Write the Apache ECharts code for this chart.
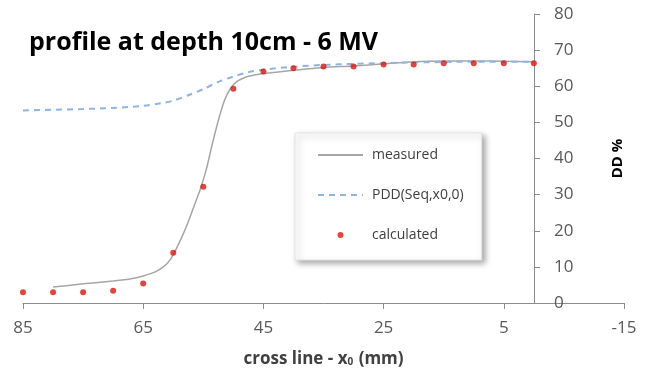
<!DOCTYPE html>
<html>
<head>
<meta charset="utf-8">
<script src="https://cdn.jsdelivr.net/npm/echarts@6/dist/echarts.min.js"></script>
<style>
  html, body { margin: 0; padding: 0; background: #fff; }
  #chart { width: 651px; height: 375px; }
</style>
</head>
<body>
<div id="chart"></div>
<script>
// calculated points
const calcX = [85, 80, 75, 70, 65, 60, 55, 50, 45, 40, 35, 30, 25, 20, 15, 10, 5, 0];
const calcY = [3.0, 3.0, 3.0, 3.4, 5.4, 13.9, 32.2, 59.3, 64.1, 65.0, 65.5, 65.5, 66.0, 66.0, 66.4, 66.4, 66.4, 66.4];

// measured profile
const measX = [80, 75, 70, 67, 65, 63, 61.5, 60.5, 59.5, 58.5, 57.5, 56.5, 55.5, 54.5, 53.5, 52.5, 51.5, 50.5, 49.5, 48, 46.5, 45, 40, 35, 30, 25, 20, 15, 10, 5, 0];
const measY = [4.4, 5.3, 6.1, 6.7, 7.5, 8.6, 10.2, 12.0, 15.0, 18.5, 22.5, 27.0, 31.5, 37.0, 44.0, 50.5, 56.0, 59.3, 61.2, 62.5, 63.1, 63.5, 64.4, 65.2, 65.6, 66.2, 66.8, 67.0, 67.0, 66.9, 66.8];

// PDD(Seq,x0,0)
const pddX = [85, 80, 75, 70, 65, 62, 60, 57.5, 55, 52.5, 50, 47.5, 45, 40, 35, 30, 25, 20, 15, 10, 5, 0];
const pddY = [53.3, 53.5, 53.7, 54.0, 54.6, 55.3, 56.0, 57.5, 59.2, 61.2, 62.7, 63.9, 64.6, 65.4, 65.9, 66.2, 66.4, 66.6, 66.7, 66.8, 66.8, 66.8];

const names = ['measured', 'PDD(Seq,x0,0)', 'calculated'];

const pairs = (xs, ys) => xs.map((x, i) => [x, ys[i]]);

const font = "'Open Sans', sans-serif";
const axisGrey = '#8c8c8c';
const chart = echarts.init(document.getElementById('chart'));

chart.setOption({
  animation: false,
  textStyle: { fontFamily: font },
  title: {
    text: 'profile at depth 10cm - 6 MV',
    left: 24,
    top: 25,
    textStyle: { fontSize: 25, fontWeight: 'bold', color: '#000', fontFamily: font }
  },
  legend: {
    data: [
      { name: names[0], itemStyle: { opacity: 0 } },
      { name: names[1], itemStyle: { opacity: 0 } },
      { name: names[2] }
    ],
    orient: 'vertical',
    left: 295,
    top: 133,
    itemWidth: 45,
    itemHeight: 6,
    itemGap: 26,
    padding: [15, 18, 18, 22],
    backgroundColor: '#fff',
    borderColor: '#e3e3e3',
    borderWidth: 1,
    shadowBlur: 6,
    shadowOffsetX: 3,
    shadowOffsetY: 3,
    shadowColor: 'rgba(0,0,0,0.35)',
    textStyle: { fontSize: 14, color: '#404040', fontFamily: font, padding: [0, 0, 0, 4] }
  },
  grid: {
    left: 23,
    right: 27,
    top: 14,
    bottom: 72,
    containLabel: false,
    outerBoundsMode: 'none'
  },
  xAxis: {
    type: 'value',
    min: -15,
    max: 85,
    interval: 20,
    inverse: true,
    name: '{a|cross line - x}{b|0}{a| (mm)}',
    nameLocation: 'middle',
    nameGap: 48,
    nameTextStyle: {
      rich: {
        a: { fontSize: 17, fontWeight: 'bold', color: '#404040', fontFamily: font },
        b: { fontSize: 10, fontWeight: 'bold', color: '#404040', fontFamily: font, padding: [6, 1, 0, 0] }
      }
    },
    axisLine: { show: true, onZero: false, lineStyle: { color: axisGrey, width: 1 } },
    axisTick: { show: true, length: 6, lineStyle: { color: axisGrey } },
    axisLabel: { fontSize: 17, color: '#595959', margin: 17 },
    splitLine: { show: false }
  },
  yAxis: {
    type: 'value',
    position: 'right',
    offset: -90,
    min: 0,
    max: 80,
    interval: 10,
    name: 'DD %',
    nameLocation: 'middle',
    nameRotate: 90,
    nameGap: 76,
    nameTextStyle: { fontSize: 15, fontWeight: 'bold', color: '#000', fontFamily: font },
    axisLine: { show: true, onZero: false, lineStyle: { color: axisGrey, width: 1 } },
    axisTick: { show: true, length: 6, lineStyle: { color: axisGrey } },
    axisLabel: { fontSize: 17, color: '#595959', margin: 20 },
    splitLine: { show: false }
  },
  series: [
    {
      name: names[0],
      type: 'line',
      data: pairs(measX, measY),
      smooth: 0.2,
      symbol: 'none',
      lineStyle: { color: '#a6a6a6', width: 1.5 },
      itemStyle: { color: '#a6a6a6' },
      z: 2
    },
    {
      name: names[1],
      type: 'line',
      data: pairs(pddX, pddY),
      smooth: 0.3,
      symbol: 'none',
      lineStyle: { color: '#8db4e2', width: 2, type: [6, 5] },
      itemStyle: { color: '#8db4e2' },
      z: 3
    },
    {
      name: names[2],
      type: 'scatter',
      data: pairs(calcX, calcY),
      symbol: 'circle',
      symbolSize: 6,
      itemStyle: { color: '#e0140c' },
      z: 4
    }
  ]
});
</script>
</body>
</html>
